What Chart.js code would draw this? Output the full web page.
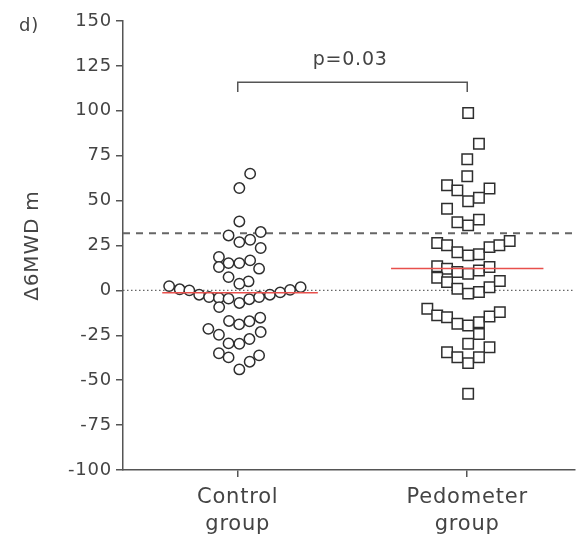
<!DOCTYPE html>
<html>
<head>
<meta charset="utf-8">
<script src="https://cdn.jsdelivr.net/npm/chart.js@4.4.1/dist/chart.umd.min.js"></script>
<style>
html,body{margin:0;padding:0;background:#fff;}
#wrap{width:584px;height:543px;}
</style>
</head>
<body>
<div id="wrap"><canvas id="c" width="584" height="543"></canvas></div>
<script>
// ---- data ----
const categories = [['Control', 'group'], ['Pedometer', 'group']];
const yTicks = [-100, -75, -50, -25, 0, 25, 50, 75, 100, 125, 150];

// beeswarm positions (group index + horizontal spread) and Δ6MWD values (m)
const controlX = [1.054,1.007,1.007,0.960,1.100,1.007,1.054,1.100,0.918,0.960,1.007,1.054,0.918,1.093,0.960,1.047,1.007,
  0.701,0.747,0.789,0.832,0.875,0.918,0.960,1.007,1.050,1.093,1.140,1.185,1.228,1.274,0.919,
  0.962,1.006,1.051,1.098,0.872,0.918,0.960,1.007,1.051,1.100,0.918,0.960,1.007,1.052,1.093];
const controlY = [65.0,57.0,38.4,30.6,32.5,26.9,28.2,23.6,18.6,15.2,15.2,16.7,13.0,12.1,7.4,5.0,3.7,
  2.4,0.6,0.0,-2.4,-3.7,-4.2,-4.6,-7.0,-4.9,-3.7,-2.4,-1.1,0.3,1.8,-9.3,
  -17.0,-18.9,-17.2,-15.2,-21.4,-24.7,-29.5,-29.7,-27.1,-23.2,-35.0,-37.3,-44.0,-39.7,-36.2];

const pedometerX = [2.004,2.051,2.000,2.000,1.912,1.957,2.097,2.004,2.051,1.912,1.957,2.004,2.051,
  1.869,1.912,1.957,2.004,2.051,2.097,2.140,2.185,
  1.869,1.912,1.957,2.004,2.051,2.097,1.869,1.912,1.957,2.004,2.051,2.097,2.142,
  1.826,1.869,1.912,1.957,2.004,2.051,2.097,2.142,2.051,2.004,2.097,1.912,1.957,2.004,2.051,2.004];
const pedometerY = [98.8,81.7,73.0,63.5,58.5,55.7,56.7,49.6,51.6,45.5,38.0,36.2,39.4,
  26.4,25.1,21.3,19.5,20.1,24.1,25.1,27.5,
  13.4,12.1,10.2,9.3,11.1,13.0,7.1,4.6,0.9,-1.8,-0.9,1.8,5.2,
  -10.2,-13.9,-14.9,-18.6,-19.5,-17.7,-14.5,-12.1,-24.3,-29.7,-31.6,-34.4,-37.2,-40.5,-37.2,-57.5];

const controlMean = -1.3;
const pedometerMean = 12.2;
const thresholdLine = 31.8;   // dashed reference line
const bracketTop = 115.9, bracketFoot = 110.4;
const pValueText = 'p=0.03';
const pValueY = 128.3;
const panelLabel = 'd)';
const yTitle = 'Δ6MWD m';

// ---- chart ----
const FONT = '"DejaVu Sans", sans-serif';
const TXT = '#444444';
const AX = '#555555';
const xMin = 0.5, xMax = 2.47;

const toPts = (xs, ys) => xs.map((x, i) => ({x: x, y: ys[i]}));

const textPlugin = {
  id: 'texts',
  beforeDraw(chart) { chart.ctx.letterSpacing = '0.8px'; },
  afterDraw(chart) {
    const ctx = chart.ctx;
    const xs = chart.scales.x, ys = chart.scales.y;
    ctx.save();
    ctx.fillStyle = TXT;
    ctx.textAlign = 'center';
    ctx.textBaseline = 'middle';
    ctx.font = '19px ' + FONT;
    ctx.fillText(pValueText, xs.getPixelForValue(1.49), ys.getPixelForValue(pValueY));
    ctx.font = '18px ' + FONT;
    ctx.fillText(panelLabel, 29, 26);
    ctx.restore();
    ctx.letterSpacing = '0px';
  }
};

new Chart(document.getElementById('c'), {
  type: 'scatter',
  data: {
    datasets: [
      { // control mean
        type: 'line', data: [{x: 0.671, y: controlMean}, {x: 1.349, y: controlMean}],
        borderColor: '#e8504c', borderWidth: 1.6, pointRadius: 0, order: 0
      },
      { // pedometer mean
        type: 'line', data: [{x: 1.668, y: pedometerMean}, {x: 2.332, y: pedometerMean}],
        borderColor: '#e8504c', borderWidth: 1.6, pointRadius: 0, order: 0
      },
      {
        label: 'Control group', data: toPts(controlX, controlY),
        pointStyle: 'circle', pointRadius: 5.2, pointBorderWidth: 1.5,
        pointBackgroundColor: '#ffffff', pointBorderColor: '#2e2e2e', order: 1
      },
      {
        label: 'Pedometer group', data: toPts(pedometerX, pedometerY),
        pointStyle: 'rect', pointRadius: 7.4, pointBorderWidth: 1.5,
        pointBackgroundColor: '#ffffff', pointBorderColor: '#2e2e2e', order: 1
      },
      { // zero line (dotted)
        type: 'line', data: [{x: xMin, y: 0}, {x: xMax, y: 0}],
        borderColor: '#666666', borderWidth: 1.4, borderDash: [1.5, 2.5], pointRadius: 0, order: 2
      },
      { // dashed threshold
        type: 'line', data: [{x: xMin, y: thresholdLine}, {x: xMax, y: thresholdLine}],
        borderColor: '#666666', borderWidth: 2, borderDash: [7, 6], pointRadius: 0, order: 2
      },
      { // significance bracket
        type: 'line', data: [{x: 1, y: bracketFoot}, {x: 1, y: bracketTop}, {x: 2, y: bracketTop}, {x: 2, y: bracketFoot}],
        borderColor: '#555555', borderWidth: 1.5, pointRadius: 0, order: 2, clip: false
      }
    ]
  },
  options: {
    responsive: false,
    animation: false,
    devicePixelRatio: 1,
    layout: {padding: {top: 21, right: 0, left: 0, bottom: 0}},
    plugins: {legend: {display: false}, tooltip: {enabled: false}},
    scales: {
      x: {
        type: 'linear', min: xMin, max: xMax,
        afterBuildTicks: (s) => { s.ticks = [{value: 1}, {value: 2}]; },
        afterFit: (s) => { s.height = 73; },
        ticks: {
          callback: (v) => categories[Math.round(v) - 1],
          font: {family: FONT, size: 21, lineHeight: 1.3}, color: TXT, padding: 7, maxRotation: 0
        },
        grid: {drawOnChartArea: false, drawTicks: true, tickLength: 7, color: AX, lineWidth: 1.5},
        border: {display: true, color: AX, width: 1.5}
      },
      y: {
        type: 'linear', min: -100, max: 150,
        afterBuildTicks: (s) => { s.ticks = yTicks.map(v => ({value: v})); },
        afterFit: (s) => { s.width = 123; },
        ticks: {font: {family: FONT, size: 18}, color: TXT, padding: 4},
        grid: {drawOnChartArea: false, drawTicks: true, tickLength: 7, color: AX, lineWidth: 1.5},
        border: {display: true, color: AX, width: 1.5},
        title: {display: true, text: yTitle, font: {family: FONT, size: 20, lineHeight: 1.2}, color: TXT, padding: {top: 21, bottom: 0}}
      }
    }
  },
  plugins: [textPlugin]
});
</script>
</body>
</html>
